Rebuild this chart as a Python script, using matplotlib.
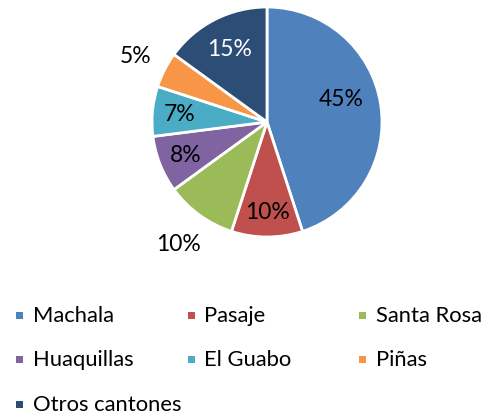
import numpy as np
import matplotlib.pyplot as plt
from matplotlib.patches import Rectangle

cantones = ['Machala', 'Pasaje', 'Santa Rosa', 'Huaquillas', 'El Guabo', 'Piñas', 'Otros cantones']
porcentajes = [45, 10, 10, 8, 7, 5, 15]
colores = ['#4F81BD', '#C0504D', '#9BBB59', '#8064A2', '#4BACC6', '#F79646', '#2C4D75']

# label placement (fraction of radius, angle shift in degrees, text colour)
dist = [0.68, 0.78, 1.31, 0.76, 0.76, 1.28, 0.72]
shift = [8.5, 0, 0, 0, 0, 0, 0]
txt_col = ['black'] * 6 + ['white']

plt.rcParams['font.family'] = ['Lato', 'DejaVu Sans']

W, H = 491, 414
fig = plt.figure(figsize=(W / 100, H / 100), dpi=100)
ax = fig.add_axes([152 / W, (H - 238) / H, 230 / W, 230 / H])

wedges, _ = ax.pie(porcentajes, colors=colores, startangle=90, counterclock=False,
                   radius=1, wedgeprops=dict(edgecolor='white', linewidth=2))
ax.set_xlim(-1, 1)
ax.set_ylim(-1, 1)
ax.set_aspect('equal')
ax.axis('off')

for w, p, d, s, c in zip(wedges, porcentajes, dist, shift, txt_col):
    ang = np.deg2rad((w.theta1 + w.theta2) / 2 + s)
    ax.text(d * np.cos(ang), d * np.sin(ang), f'{p}%', ha='center', va='center',
            fontsize=16.5, color=c, clip_on=False)

# legend, three columns like the original
for i, (name, col) in enumerate(zip(cantones, colores)):
    x0 = 16 + (i % 3) * 171.5
    y0 = 316 + (i // 3) * 44.5
    fig.patches.append(Rectangle((x0 / W, (H - y0 - 3.5) / H), 7 / W, 7 / H,
                                 transform=fig.transFigure, facecolor=col, edgecolor='none'))
    fig.text((x0 + 17) / W, (H - y0) / H, name, ha='left', va='center', fontsize=15.8)

fig.savefig('out.png', dpi=100)
